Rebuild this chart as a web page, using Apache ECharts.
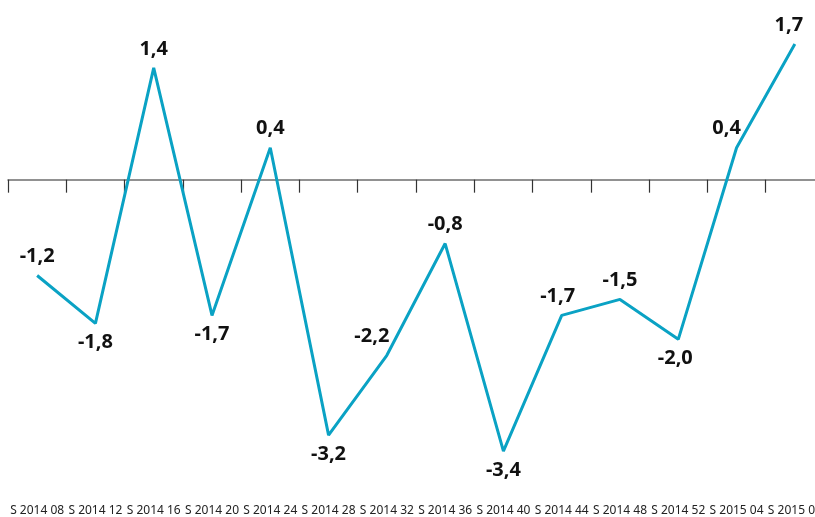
<!DOCTYPE html>
<html><head><meta charset="utf-8">
<script src="https://cdn.jsdelivr.net/npm/echarts@6/dist/echarts.min.js"></script>
<style>html,body{margin:0;padding:0;background:#fff;overflow:hidden;width:815px;height:517px}#c{width:830px;height:517px}</style>
</head><body><div id="c"></div>
<script>
const categories = ["S 2014 08","S 2014 12","S 2014 16","S 2014 20","S 2014 24","S 2014 28","S 2014 32","S 2014 36","S 2014 40","S 2014 44","S 2014 48","S 2014 52","S 2015 04","S 2015 08"];
const values = [-1.2,-1.8,1.4,-1.7,0.4,-3.2,-2.2,-0.8,-3.4,-1.7,-1.5,-2.0,0.4,1.7];
const labelPos = ["top","bottom","top","bottom","top","bottom","top","top","bottom","top","top","bottom","top","top"];
const labelShift = [0,0,0,0,0,0,-15,0,0,-4,0,-3,-10,-6];

const chart = echarts.init(document.getElementById('c'));
chart.setOption({
  animation:false,
  grid:{left:8,width:816,top:20,bottom:17,containLabel:false},
  xAxis:[{
    type:'category',data:categories,boundaryGap:true,
    axisLine:{onZero:true,lineStyle:{color:'#6e6e6e',width:1.5}},
    axisTick:{show:true,interval:0,length:13,lineStyle:{color:'#333',width:1.2}},
    axisLabel:{show:false,interval:0}
  },{
    type:'category',data:categories,position:'bottom',boundaryGap:true,
    axisLine:{show:false,onZero:false},axisTick:{show:false},
    axisLabel:{show:true,interval:0,margin:6,fontSize:12,color:'#222',fontFamily:'Noto Sans'}
  }],
  yAxis:{type:'value',min:-4,max:2,show:false,splitLine:{show:false}},
  series:[{
    type:'line',data:values.map((v,i)=>({value:v,label:{position:labelPos[i],offset:[labelShift[i],0]}})),
    symbol:'circle',symbolSize:2,showSymbol:true,itemStyle:{color:'rgba(0,0,0,0)'},
    lineStyle:{color:'#0aa2c4',width:3},
    label:{show:true,fontSize:20,fontWeight:'bold',color:'#111',fontFamily:'Noto Sans',distance:8,
      formatter:p=>String(p.value.toFixed(1)).replace('.',',')}
  }]
});
</script></body></html>
